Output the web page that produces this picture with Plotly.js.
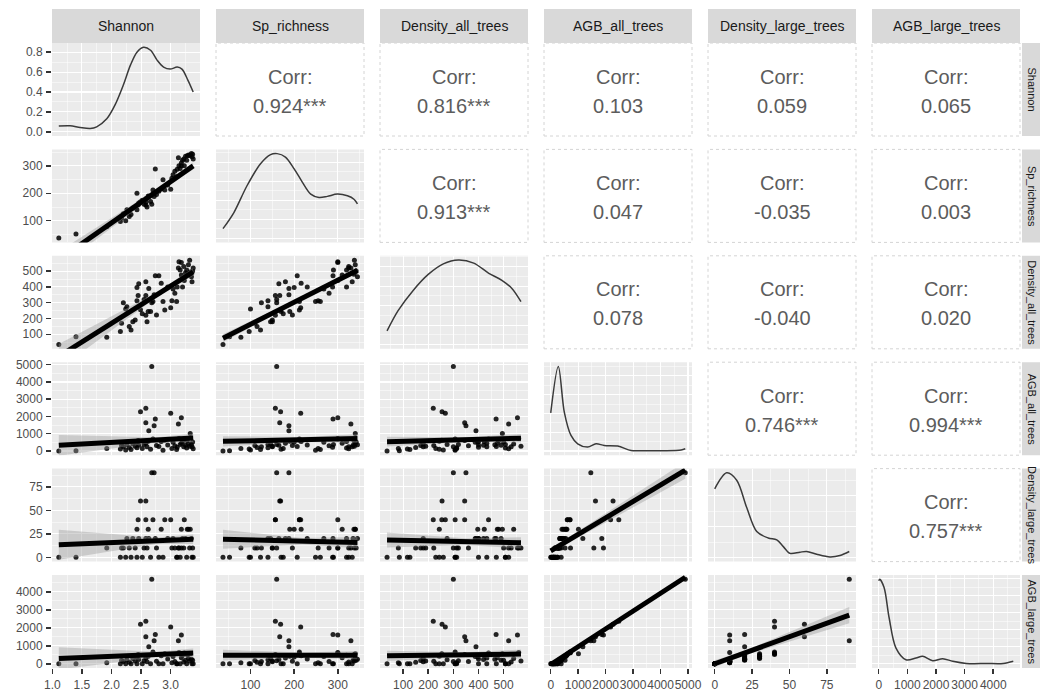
<!DOCTYPE html>
<html>
<head>
<meta charset="utf-8">
<script src="https://cdn.plot.ly/plotly-3.0.1.min.js"></script>
<style>html,body{margin:0;padding:0;background:#fff}#chart{width:1040px;height:693px}</style>
</head>
<body>
<div id="chart"></div>
<script>
// ---------------- DATA ----------------
const varNames = ["Shannon","Sp_richness","Density_all_trees","AGB_all_trees","Density_large_trees","AGB_large_trees"];

const shannon = [1.11,1.40,1.92,2.15,2.17,2.20,2.24,2.26,2.30,2.33,2.36,2.40,2.43,2.43,2.46,2.49,2.45,2.52,2.55,2.58,
  2.58,2.58,2.60,2.62,2.63,2.66,2.68,2.70,2.72,2.74,2.76,2.80,2.84,2.87,2.90,2.95,3.00,3.02,3.04,3.07,
  3.10,3.11,3.13,3.14,3.16,3.18,3.18,3.20,3.22,3.23,3.25,3.27,3.28,3.30,3.32,3.33,3.35,3.36,3.37,3.38];
const spRichness = [37,52,78,97,110,125,100,140,115,123,146,150,140,200,165,169,157,175,160,157,
  167,180,150,190,188,170,160,212,188,289,196,207,216,249,212,230,215,255,268,280,
  260,288,330,300,290,300,310,320,325,300,335,320,337,340,338,340,345,333,342,325];
const densityAll = [36,85,81,117,170,300,260,275,150,127,180,190,313,397,420,255,345,230,320,220,
  345,433,180,244,390,244,300,307,350,470,222,471,423,307,254,400,268,313,387,360,
  307,400,520,560,507,555,475,400,530,440,490,507,480,540,569,495,465,433,500,520];
const agbAll = [0,20,150,120,320,250,60,380,200,90,420,280,180,500,330,2270,600,150,380,2480,
  1630,450,240,560,1170,100,4900,700,1460,1860,320,260,550,40,620,350,2180,150,500,300,
  90,220,1570,720,380,1920,450,550,250,700,330,170,590,410,280,1010,360,240,520,130];
const densityLarge = [0,0,10,0,10,10,0,20,10,0,20,10,0,30,20,60,40,0,10,40,
  60,20,10,30,20,0,90,40,90,20,10,0,30,0,40,20,40,10,20,10,
  0,0,10,10,0,10,30,20,10,40,20,0,30,30,10,30,20,0,10,0];
const agbLarge = [0,0,60,0,180,120,0,230,90,0,300,150,0,380,240,2200,520,0,170,2370,
  1500,320,110,420,940,0,4700,650,1280,1630,140,0,450,0,560,260,2050,60,400,120,
  0,0,1280,630,0,1600,330,470,100,600,200,0,500,300,150,560,250,0,200,0];

// correlation labels, upper panels in row-major order
const corrLabels = ["0.924***","0.816***","0.103","0.059","0.065",
  "0.913***","0.047","-0.035","0.003",
  "0.078","-0.040","0.020",
  "0.746***","0.994***",
  "0.757***"];

// diagonal density curves
const densShannonX = [1.11,1.30,1.47,1.64,1.75,1.92,2.06,2.20,2.32,2.43,2.54,2.66,2.77,2.88,2.99,3.11,3.19,3.29,3.38];
const densShannonY = [0.057,0.060,0.043,0.033,0.050,0.130,0.270,0.470,0.670,0.800,0.850,0.820,0.720,0.650,0.630,0.650,0.630,0.520,0.400];
const densSpX = [37,62,92,123,146,161,180,200,219,238,257,276,299,322,337,345];
const densSpY = [0.00050,0.00135,0.00276,0.00392,0.00440,0.00445,0.00427,0.00365,0.00294,0.00232,0.00214,0.00220,0.00232,0.00223,0.00205,0.00180];
const densDallX = [36,80,140,200,260,320,381,441,493,533,569];
const densDallY = [0.00035,0.00087,0.00139,0.00180,0.00207,0.00217,0.00209,0.00183,0.00165,0.00144,0.00110];
const densAgbAllX = [0,276,494,738,982,1346,1649,1951,2439,2924,3288,4136,4750,4900];
const densAgbAllY = [0.000405,0.000900,0.000414,0.000165,0.0000765,0.0000414,0.0000765,0.0000585,0.0000522,0.0000054,0.0000027,0.0000027,0.0000108,0.0000234];
const densDlgX = [0,8,14.7,21.4,28.1,35.8,41.5,45.9,50.4,57,61.5,68.2,77.1,83.8,90];
const densDlgY = [0.0223,0.0275,0.0251,0.0162,0.0084,0.0063,0.0057,0.0035,0.0013,0.0017,0.0019,0.0010,0.00014,0.0006,0.0019];
const densAgbLgX = [0,36,187,363,599,950,1302,1534,1886,2237,2589,3060,3764,4348,4700];
const densAgbLgY = [0.000975,0.000994,0.000896,0.000541,0.000187,0.000048,0.000068,0.000088,0.000036,0.000060,0.000029,0.000004,0.000003,0.000003,0.000029];

// linear fits of the lower panels
const fitRow = [1,2,2,3,3,3,4,4,4,4,5,5,5,5,5];
const fitCol = [0,0,1,0,1,2,0,1,2,3,0,1,2,3,4];
const fitStart = [-42,-41,75,330,560,540,13.4,19.3,18.5,7,295,480,440,-40,0];
const fitEnd   = [300,495,506,755,720,740,19.3,15.8,15.5,92.8,600,480,540,4811,2700];
const bandStart = [30,80,25,600,300,280,16,10,8,3,620,300,280,30,200];
const bandMid   = [8,15,10,150,150,140,3.5,3.5,3.5,3,150,140,140,25,120];
const bandEnd   = [12,25,18,250,250,250,5,6,6,9,250,230,250,70,450];

// ---------------- BUILD ----------------
const vars = [shannon, spRichness, densityAll, agbAll, densityLarge, agbLarge];
const densX = [densShannonX, densSpX, densDallX, densAgbAllX, densDlgX, densAgbLgX];
const densY = [densShannonY, densSpY, densDallY, densAgbAllY, densDlgY, densAgbLgY];
const ranges = [[0.995,3.495],[21,360],[8,597],[-245,5145],[-4.5,94.5],[-235,4935]];
const dticks = [0.5,100,100,1000,25,1000];
const fmts = ['.1f','','','','',''];

const W=1040,H=693,ML=52,MR=20,MT=43,MB=25;
const PW=W-ML-MR, PH=H-MT-MB;
const CW=148, CG=16, RH=93, RG=(PH-6*RH)/5;
function xdom(c){ return [c*(CW+CG)/PW, (c*(CW+CG)+CW)/PW]; }
function ydom(r){ const top=r*(RH+RG); return [(PH-top-RH)/PH, (PH-top)/PH]; }
function niceStep(v){ const p=Math.pow(10,Math.floor(Math.log10(v))); const m=v/p; return (m<1.5?1:m<3?2:m<7?5:10)*p; }

const FONT = 'Liberation Sans, Arial, sans-serif';
const traces = [];
const shapes = [];
const annotations = [];
const layout = {
  width:W, height:H, margin:{l:ML,r:MR,t:MT,b:MB,pad:0},
  paper_bgcolor:'#ffffff', plot_bgcolor:'rgba(0,0,0,0)', showlegend:false,
  font:{family:FONT, color:'#4d4d4d'}, hovermode:false
};

function baseAxis(dom, range, dtick, anchor){
  return {domain:dom, range:range, autorange:false, anchor:anchor,
    tickmode:'linear', tick0:0, dtick:dtick, tickangle:0,
    showgrid:true, gridcolor:'#ffffff', gridwidth:1.1,
    minor:{tick0:0, dtick:dtick/2, showgrid:true, gridcolor:'#ffffff', gridwidth:0.5, ticks:''},
    zeroline:false, showline:false, ticks:'', showticklabels:false,
    fixedrange:true, automargin:false};
}
const tickOn = {ticks:'outside', ticklen:5, tickwidth:1.5, tickcolor:'#333333', showticklabels:true,
  ticklabelstandoff:1, tickfont:{family:FONT, size:12, color:'#4d4d4d'}};

let ci = 0;
for (let r=0;r<6;r++){
  for (let c=0;c<6;c++){
    const k=r*6+c+1, sfx=(k===1?'':String(k));
    const xd=xdom(c), yd=ydom(r);
    if (c>r){
      shapes.push({type:'rect',xref:'paper',yref:'paper',x0:xd[0],x1:xd[1],y0:yd[0],y1:yd[1],
        fillcolor:'#ffffff',line:{color:'#d4d4d4',width:1,dash:'dot'},layer:'below'});
      const cx=(xd[0]+xd[1])/2, cy=(yd[0]+yd[1])/2;
      annotations.push({xref:'paper',yref:'paper',x:cx,y:cy,yshift:13,text:'Corr:',showarrow:false,
        xanchor:'center',yanchor:'middle',font:{family:FONT,size:20,color:'#5c5c5c'}});
      annotations.push({xref:'paper',yref:'paper',x:cx,y:cy,yshift:-16,text:corrLabels[ci],showarrow:false,
        xanchor:'center',yanchor:'middle',font:{family:FONT,size:20,color:'#5c5c5c'}});
      ci++;
      continue;
    }
    shapes.push({type:'rect',xref:'paper',yref:'paper',x0:xd[0],x1:xd[1],y0:yd[0],y1:yd[1],
      fillcolor:'#EBEBEB',line:{width:0},layer:'below'});
    const xa = baseAxis(xd, ranges[c], dticks[c], 'y'+sfx);
    if (r===5){ Object.assign(xa, tickOn); if (fmts[c]) xa.tickformat=fmts[c]; }
    let ya;
    if (r===c){
      const mx=Math.max(...densY[r]);
      const rng=[-0.05*mx, 1.05*mx];
      const dt = (r===0)?0.2:niceStep(1.1*mx/4);
      ya = baseAxis(yd, rng, dt, 'x'+sfx);
      if (r===0){ Object.assign(ya, tickOn); ya.tickformat='.1f'; }
      traces.push({type:'scatter',mode:'lines',x:densX[r],y:densY[r],xaxis:'x'+sfx,yaxis:'y'+sfx,
        line:{color:'#3a3a3a',width:1.5,shape:'spline',smoothing:0.9},hoverinfo:'skip'});
    } else {
      ya = baseAxis(yd, ranges[r], dticks[r], 'x'+sfx);
      if (c===0){ Object.assign(ya, tickOn); if (fmts[r]) ya.tickformat=fmts[r]; }
      traces.push({type:'scatter',mode:'markers',x:vars[c],y:vars[r],xaxis:'x'+sfx,yaxis:'y'+sfx,
        marker:{size:5,color:'rgba(0,0,0,0.85)',line:{width:0}},hoverinfo:'skip'});
    }
    layout['xaxis'+sfx]=xa; layout['yaxis'+sfx]=ya;
  }
}

// fits + confidence bands
for (let i=0;i<fitRow.length;i++){
  const r=fitRow[i], c=fitCol[i];
  const k=r*6+c+1, sfx=(k===1?'':String(k));
  const xs=vars[c];
  const x0=Math.min(...xs), x1=Math.max(...xs);
  const xm=xs.reduce((a,b)=>a+b,0)/xs.length;
  const ys=fitStart[i], ye=fitEnd[i];
  const ym=ys+(ye-ys)*(xm-x0)/(x1-x0);
  traces.push({type:'scatter',mode:'lines',fill:'toself',fillcolor:'rgba(153,153,153,0.4)',
    line:{width:0},x:[x0,xm,x1,x1,xm,x0],
    y:[ys-bandStart[i],ym-bandMid[i],ye-bandEnd[i],ye+bandEnd[i],ym+bandMid[i],ys+bandStart[i]],
    xaxis:'x'+sfx,yaxis:'y'+sfx,hoverinfo:'skip'});
  traces.push({type:'scatter',mode:'lines',x:[x0,x1],y:[ys,ye],xaxis:'x'+sfx,yaxis:'y'+sfx,
    line:{color:'#000000',width:5},hoverinfo:'skip'});
}

// strips
const stripH = 34/PH;
for (let c=0;c<6;c++){
  const xd=xdom(c);
  shapes.push({type:'rect',xref:'paper',yref:'paper',x0:xd[0],x1:xd[1],y0:1,y1:1+stripH,
    fillcolor:'#D9D9D9',line:{width:0},layer:'below'});
  annotations.push({xref:'paper',yref:'paper',x:(xd[0]+xd[1])/2,y:1+stripH/2,text:varNames[c],showarrow:false,
    xanchor:'center',yanchor:'middle',font:{family:FONT,size:14,color:'#1a1a1a'}});
}
for (let r=0;r<6;r++){
  const yd=ydom(r);
  shapes.push({type:'rect',xref:'paper',yref:'paper',x0:1+2/PW,x1:1+32/PW,y0:yd[0],y1:yd[1],
    fillcolor:'#D9D9D9',line:{width:0},layer:'below'});
  annotations.push({xref:'paper',yref:'paper',x:1+12/PW,y:(yd[0]+yd[1])/2,text:varNames[r],showarrow:false,
    textangle:90,xanchor:'center',yanchor:'middle',font:{family:FONT,size:11,color:'#1a1a1a'}});
}

layout.shapes=shapes;
layout.annotations=annotations;
Plotly.newPlot('chart', traces, layout, {staticPlot:true, displayModeBar:false});
</script>
</body>
</html>
